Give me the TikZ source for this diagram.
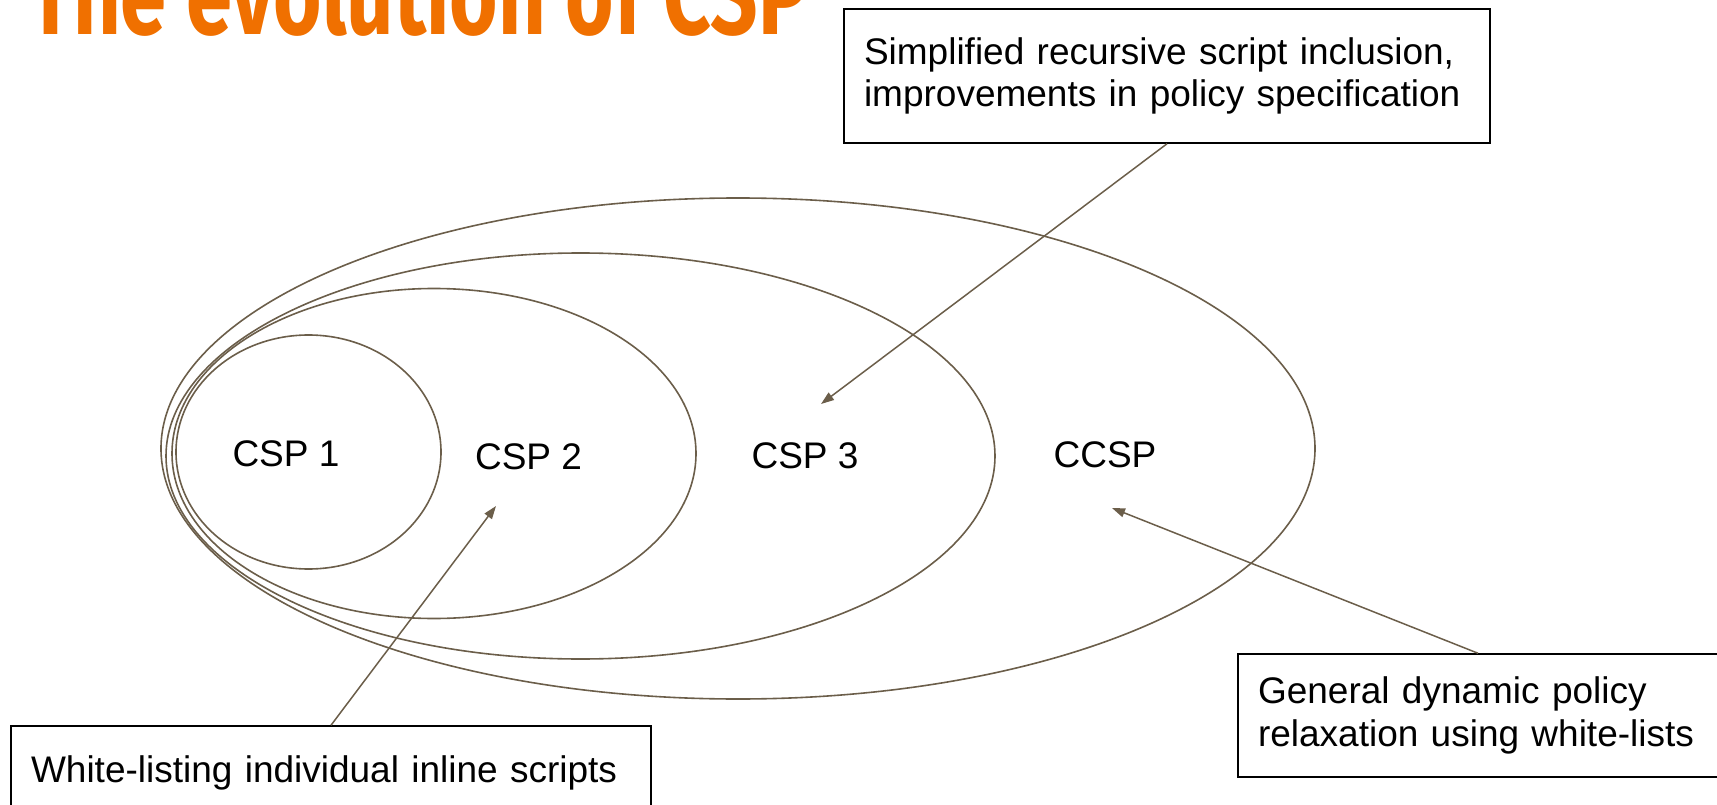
\documentclass[tikz,border=0pt]{standalone}
\usepackage{fontspec}
\setmainfont{Liberation Sans}
\newfontfamily\titlefont{Fira Sans}
\usetikzlibrary{arrows.meta}

\definecolor{ringcol}{HTML}{6B5E4A}
\definecolor{titlecol}{HTML}{F07000}

\begin{document}
\begin{tikzpicture}[x=1pt,y=-1pt,
  ring/.style={draw=ringcol, line width=1.6pt},
  arr/.style={draw=ringcol, line width=1.5pt, -{Triangle[length=13pt,width=9pt]}},
  lbl/.style={font=\fontsize{37}{42}\selectfont, inner sep=0pt},
  callout/.style={draw=black, line width=1.5pt, fill=white, align=left,
    font=\fontsize{37}{42.5}\selectfont, inner xsep=20pt, inner ysep=0pt}]
\useasboundingbox (0,0) rectangle (1717,805);
\clip (0,0) rectangle (1717,805);

% title, partly above the top edge
\node[anchor=base west, inner sep=0pt, text=titlecol,
      font=\titlefont\bfseries\fontsize{113}{120}\selectfont]
  (title) at (28,35) {\scalebox{0.735}[1]{The evolution of CSP}};

% nested versions
\draw[ring] (738,448.5) ellipse [x radius=577pt, y radius=250.5pt];
\draw[ring] (580.5,456) ellipse [x radius=414.5pt, y radius=203pt];
\draw[ring] (434,453.5) ellipse [x radius=262pt, y radius=165pt];
\draw[ring] (308.5,452) ellipse [x radius=132.5pt, y radius=117pt];

\node[lbl] (csp1) at (286,453.5) {CSP 1};
\node[lbl] (csp2) at (528.5,456.5) {CSP 2};
\node[lbl] (csp3) at (805,455.5) {CSP 3};
\node[lbl] (ccsp) at (1105,455) {CCSP};

% callout boxes
\node[callout, minimum width=646pt, minimum height=134pt, text width=606pt]
  (boxtop) at (1167,76) {Simplified recursive script inclusion,\\improvements in policy specification};
\node[callout, minimum width=480pt, minimum height=123pt, text width=440pt]
  (boxright) at (1478,715.5) {General dynamic policy\\relaxation using white-lists};
\node[callout, minimum width=640pt, minimum height=93pt, text width=600pt]
  (boxleft) at (331,772.5) {White-listing individual inline scripts};

% pointers
\coordinate (tip3) at (821,404);
\coordinate (tip2) at (496,506);
\coordinate (tipc) at (1112,508);
\draw[arr] (boxtop.south) -- (tip3);
\draw[arr] (boxleft.north) -- (tip2);
\draw[arr] (boxright.north) -- (tipc);
\end{tikzpicture}
\end{document}
